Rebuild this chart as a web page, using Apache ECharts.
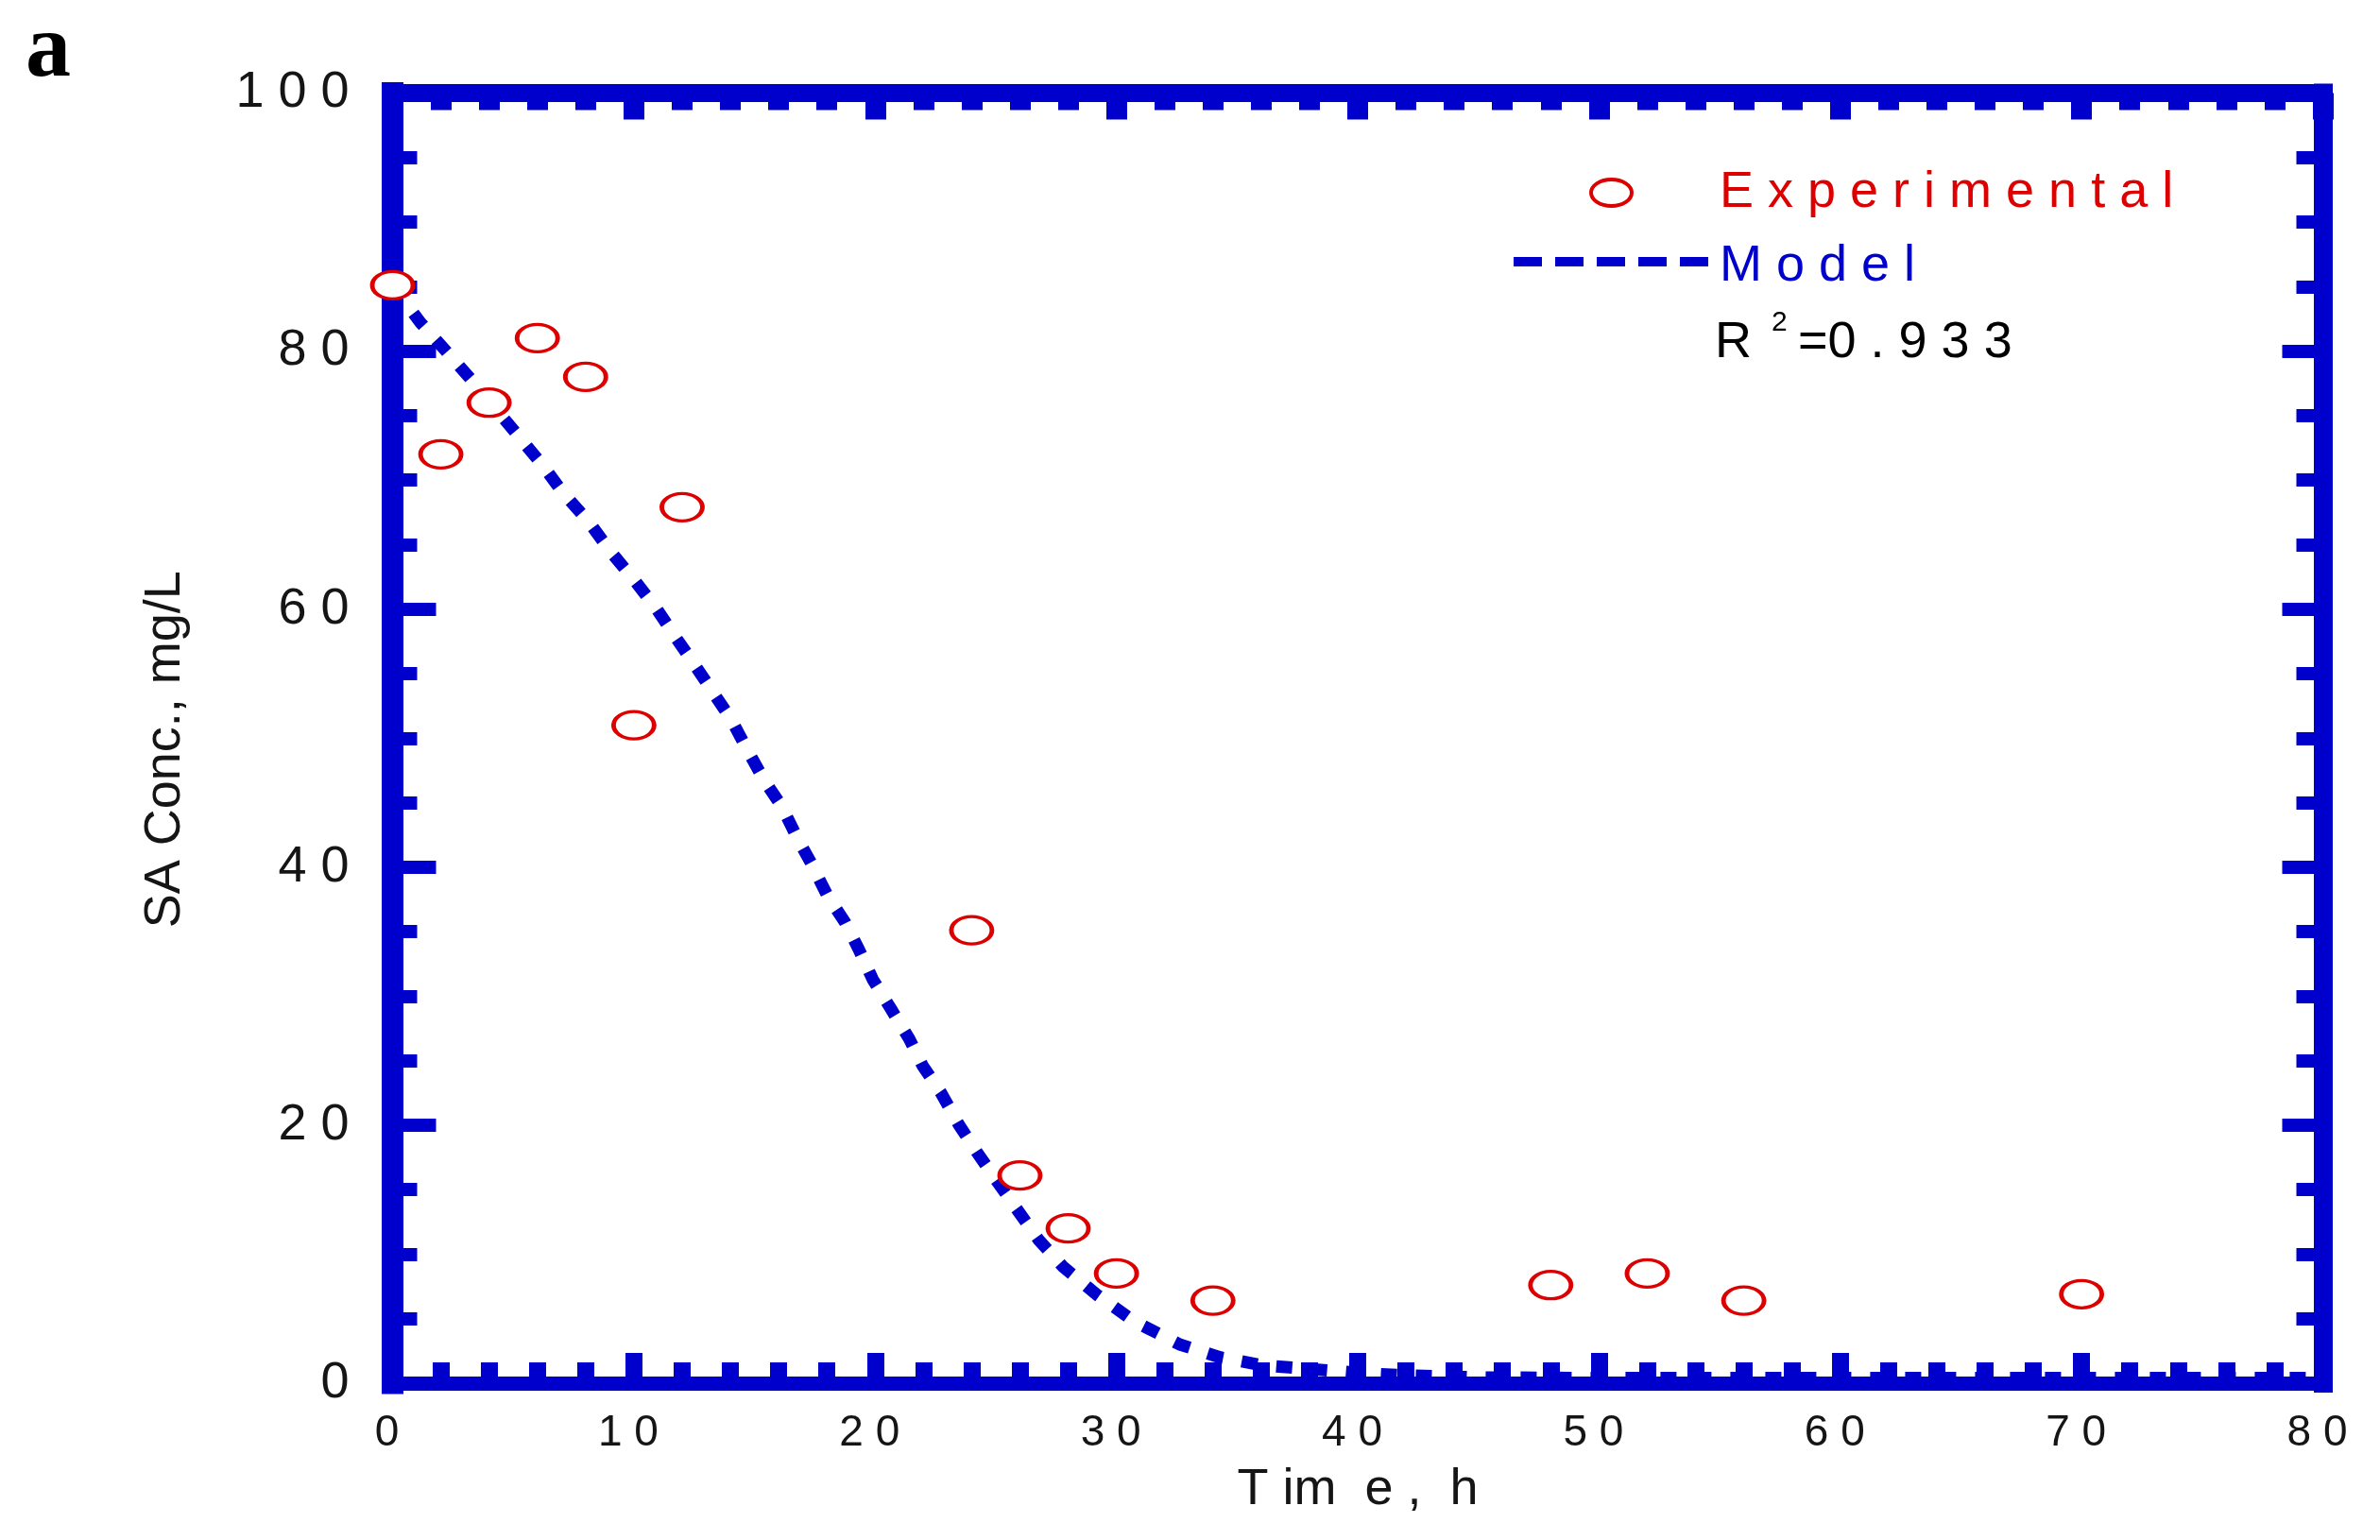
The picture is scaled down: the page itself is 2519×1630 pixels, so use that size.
<!DOCTYPE html>
<html><head><meta charset="utf-8">
<script src="https://cdn.jsdelivr.net/npm/echarts@6/dist/echarts.min.js"></script>
<style>html,body{margin:0;padding:0;background:#fff}#c{width:2519px;height:1630px}</style>
</head><body><div id="c"></div>
<script>
// ---- data ----
const expTime = [0, 2, 4, 6, 8, 10, 12, 24, 26, 28, 30, 34, 48, 52, 56, 70];
const expConc = [85.1, 72.0, 76.0, 81.0, 78.0, 51.0, 67.9, 35.1, 16.1, 12.0, 8.5, 6.4, 7.6, 8.5, 6.4, 6.9];
const modelTime = [0, 0.6, 1.16, 2.17, 3.21, 5.18, 6.24, 7.07, 8.12, 9.06, 10, 10.95, 11.7, 12.55, 13.3, 14.05, 14.7, 15.38, 16.13, 16.79, 17.35, 18.02, 18.76, 19.33, 19.9, 20.66, 21.41, 21.97, 22.73, 23.48, 24.22, 25.07, 25.83, 26.78, 27.8, 29.23, 30.73, 32.62, 34.3, 36, 38, 40, 42, 45, 50, 60, 70, 80];
const modelConc = [85.1, 83.6, 82.2, 80.1, 77.9, 73.5, 71.1, 69.0, 66.8, 64.4, 62.3, 60.0, 57.9, 55.6, 53.5, 51.4, 49.1, 46.8, 44.7, 42.2, 40.3, 37.8, 35.7, 33.6, 31.3, 29.0, 26.7, 24.6, 22.5, 20.0, 17.9, 15.6, 13.6, 11.1, 9.0, 6.8, 4.8, 3.0, 2.0, 1.4, 1.1, 0.8, 0.6, 0.45, 0.4, 0.4, 0.4, 0.4];
const xRange = [0, 80];  const xStep = 10;
const yRange = [0, 100]; const yStep = 20;
const seriesNames = ['Experimental', 'Model'];
const xTitle = 'T im  e ,  h';
const yTitle = 'SA Conc., mg/L';
const r2Label = ['R', '2', '=0 . 9 3 3'];
const panelLabel = 'a';

// ---- styling ----
const BLUE = '#0000cc';
const RED = '#dd0000';
const FONT = 'Liberation Sans';
const TXT = '#151515';
const spaced = v => String(v).split('').join(' ');

function axisBase(min, max, step, lineW, tickLen, tickW, minorLen, minorW, minorSplit) {
  return {
    type: 'value', min: min, max: max, interval: step,
    axisLine: { show: true, onZero: false, lineStyle: { color: BLUE, width: lineW, cap: 'square' } },
    axisTick: { show: true, inside: true, length: tickLen, lineStyle: { color: BLUE, width: tickW } },
    minorTick: { show: true, splitNumber: minorSplit, length: minorLen, lineStyle: { color: BLUE, width: minorW } },
    splitLine: { show: false },
    minorSplitLine: { show: false }
  };
}

const xBottom = Object.assign(axisBase(xRange[0], xRange[1], xStep, 15, 32, 18, 22, 18, 5), {
  position: 'bottom',
  axisLabel: { show: true, margin: 30, fontSize: 46, color: TXT, fontFamily: FONT, formatter: spaced, padding: [0, 12, 0, 0] },
  name: xTitle, nameLocation: 'middle', nameGap: 86,
  nameTextStyle: { fontSize: 54, color: TXT, fontFamily: FONT }
});
const xTop = Object.assign(axisBase(xRange[0], xRange[1], xStep, 19, 28, 22, 18, 22, 5), {
  position: 'top', axisLabel: { show: false }
});
const yLeft = Object.assign(axisBase(yRange[0], yRange[1], yStep, 23, 46, 14, 26, 14, 4), {
  position: 'left',
  axisLabel: { show: true, margin: 46, fontSize: 54, color: TXT, fontFamily: FONT, formatter: spaced },
  name: yTitle, nameLocation: 'middle', nameGap: 213,
  nameTextStyle: { fontSize: 54, color: TXT, fontFamily: FONT, padding: [0, 24, 0, 0] }
});
const yRight = Object.assign(axisBase(yRange[0], yRange[1], yStep, 20, 43, 14, 28, 14, 4), {
  position: 'right', axisLabel: { show: false }
});

function txt(x, y, text, size, color) {
  return {
    type: 'text', x: x, y: y, z: 100,
    style: { text: text, font: size + 'px "' + FONT + '"', fill: color,
             textAlign: 'left', textVerticalAlign: 'middle', align: 'left', verticalAlign: 'middle' }
  };
}

const chart = echarts.init(document.getElementById('c'), null, { renderer: 'canvas' });
chart.setOption({
  animation: false,
  backgroundColor: '#ffffff',
  grid: { left: 415.5, right: 60.5, top: 98.5, bottom: 166, containLabel: false },
  xAxis: [xBottom, xTop],
  yAxis: [yLeft, yRight],
  series: [
    {
      name: seriesNames[1], type: 'line', xAxisIndex: 0, yAxisIndex: 0,
      data: modelTime.map((t, i) => [t, modelConc[i]]),
      showSymbol: false, symbol: 'none', smooth: false, silent: true, z: 3,
      lineStyle: { color: BLUE, width: 13, type: [17, 20], cap: 'butt' }
    },
    {
      name: seriesNames[0], type: 'scatter', xAxisIndex: 0, yAxisIndex: 0,
      data: expTime.map((t, i) => [t, expConc[i]]),
      symbol: 'circle', symbolSize: [43, 29], clip: false, z: 4,
      itemStyle: { color: '#ffffff', borderColor: RED, borderWidth: 4, opacity: 1 }
    }
  ],
  graphic: [
    { type: 'text', x: 27, y: 55, z: 100,
      style: { text: panelLabel, font: 'bold 96px "Liberation Serif"', fill: '#000',
               textAlign: 'left', textVerticalAlign: 'middle', align: 'left', verticalAlign: 'middle' } },
    { type: 'ellipse', z: 100, shape: { cx: 1705.5, cy: 204, rx: 21.5, ry: 14 },
      style: { fill: '#ffffff', stroke: RED, lineWidth: 4 } },
    txt(1820, 204.3, spaced(seriesNames[0]), 54, RED),
    { type: 'line', z: 100, shape: { x1: 1602, y1: 277, x2: 1809, y2: 277 },
      style: { stroke: BLUE, lineWidth: 10, lineDash: [30, 14] } },
    txt(1820, 282.3, spaced(seriesNames[1]), 54, BLUE),
    txt(1815, 363.3, r2Label[0], 54, '#000'),
    txt(1875, 341.6, r2Label[1], 30, '#000'),
    txt(1903, 363.3, r2Label[2], 54, '#000')
  ]
});
</script></body></html>
